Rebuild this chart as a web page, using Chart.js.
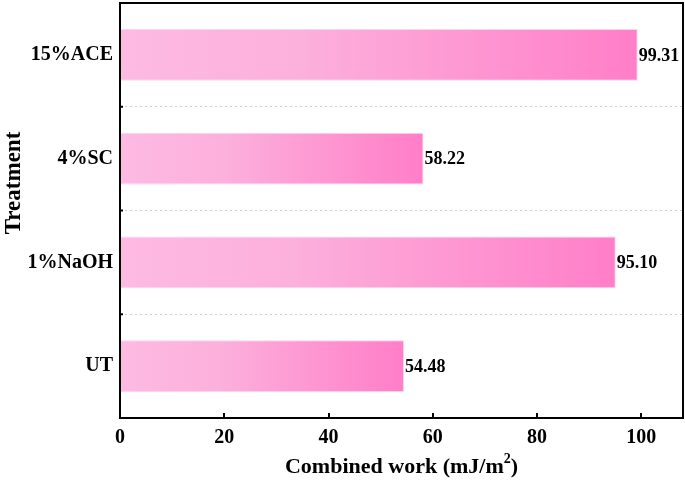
<!DOCTYPE html>
<html>
<head>
<meta charset="utf-8">
<script src="https://cdn.jsdelivr.net/npm/chart.js@4"></script>
<style>
  body { margin: 0; background: #fff; }
  #wrap { width: 685px; height: 480px; }
</style>
</head>
<body>
<div id="wrap"><canvas id="barChart"></canvas></div>
<script>
// data
const treatments = ['15%ACE', '4%SC', '1%NaOH', 'UT'];
const combinedWork = [99.31, 58.22, 95.10, 54.48];
const xTicks = [0, 20, 40, 60, 80, 100];

const serif = '"Liberation Serif", "Times New Roman", serif';

// pink gradient, one per bar, from 0 to the bar end
function barFill(ctx) {
  const chart = ctx.chart;
  if (!chart.chartArea || !chart.scales.x) return '#fcb8e0';
  const x = chart.scales.x;
  const x0 = x.getPixelForValue(0);
  const x1 = x.getPixelForValue(ctx.raw);
  const g = chart.ctx.createLinearGradient(x0, 0, x1, 0);
  g.addColorStop(0, '#fdbae2');
  g.addColorStop(0.35, '#fcb0dc');
  g.addColorStop(1, '#ff7ec8');
  return g;
}

// frame, inner ticks, value labels, axis titles
const decorations = {
  id: 'decorations',
  afterDatasetsDraw(chart) {
    const c = chart.ctx;
    const a = chart.chartArea;
    const xs = chart.scales.x;
    const ys = chart.scales.y;
    c.save();

    // value labels
    c.fillStyle = '#000';
    c.font = 'bold 18px ' + serif;
    c.textAlign = 'left';
    c.textBaseline = 'middle';
    chart.getDatasetMeta(0).data.forEach((bar, i) => {
      c.fillText(combinedWork[i].toFixed(2), bar.x + 1, bar.y + 1);
    });

    // inner ticks
    c.strokeStyle = '#000';
    c.lineWidth = 2;
    c.beginPath();
    xTicks.forEach(v => {
      const px = Math.round(xs.getPixelForValue(v));
      c.moveTo(px, a.bottom);
      c.lineTo(px, a.bottom - 5);
    });
    for (let i = 0; i < treatments.length - 1; i++) {
      const py = (ys.getPixelForValue(i) + ys.getPixelForValue(i + 1)) / 2;
      c.moveTo(a.left, py);
      c.lineTo(a.left + 3, py);
    }
    c.stroke();

    // frame
    c.lineWidth = 2;
    c.strokeRect(a.left, a.top, a.right - a.left, a.bottom - a.top);

    // axis titles
    c.font = 'bold 22px ' + serif;
    c.textBaseline = 'alphabetic';
    const xt = 'Combined work (mJ/m';
    const w1 = c.measureText(xt).width;
    c.font = 'bold 14px ' + serif;
    const w2 = c.measureText('2').width;
    c.font = 'bold 22px ' + serif;
    const w3 = c.measureText(')').width;
    const cx = (a.left + a.right) / 2;
    const start = cx - (w1 + w2 + w3) / 2;
    c.textAlign = 'left';
    c.fillText(xt, start, 473);
    c.font = 'bold 14px ' + serif;
    c.fillText('2', start + w1, 463);
    c.font = 'bold 22px ' + serif;
    c.fillText(')', start + w1 + w2, 473);

    c.translate(20, 183);
    c.rotate(-Math.PI / 2);
    c.textAlign = 'center';
    c.font = 'bold 23px ' + serif;
    c.fillText('Treatment', 0, 0);
    c.restore();
  }
};

const ctx = document.getElementById('barChart').getContext('2d');
new Chart(ctx, {
  type: 'bar',
  data: {
    labels: treatments,
    datasets: [{
      label: 'Combined work',
      data: combinedWork,
      backgroundColor: barFill,
      borderColor: 'rgba(253, 205, 234, 0.9)',
      borderWidth: 1,
      borderSkipped: false,
      categoryPercentage: 1,
      barPercentage: 0.5
    }]
  },
  options: {
    indexAxis: 'y',
    responsive: true,
    maintainAspectRatio: false,
    animation: false,
    layout: { padding: { left: 0, right: 2, top: 3, bottom: 0 } },
    plugins: {
      legend: { display: false },
      tooltip: { enabled: false }
    },
    scales: {
      x: {
        min: 0,
        max: 108,
        afterFit(s) { s.height = 62; s.paddingLeft = 0; s.paddingRight = 0; },
        afterBuildTicks(s) { s.ticks = xTicks.map(v => ({ value: v })); },
        grid: { display: false },
        border: { display: false },
        ticks: {
          color: '#000',
          padding: 0,
          maxRotation: 0,
          font: { family: serif, size: 20, weight: 'bold' }
        }
      },
      y: {
        afterFit(s) { s.width = 120; s.paddingTop = 0; s.paddingBottom = 0; },
        grid: {
          offset: true,
          drawTicks: false,
          color: '#cfcfcf',
          lineWidth: 1
        },
        border: { display: false, dash: [2, 3] },
        ticks: {
          color: '#000',
          padding: 7,
          font: { family: serif, size: 20, weight: 'bold' }
        }
      }
    }
  },
  plugins: [decorations]
});
</script>
</body>
</html>
